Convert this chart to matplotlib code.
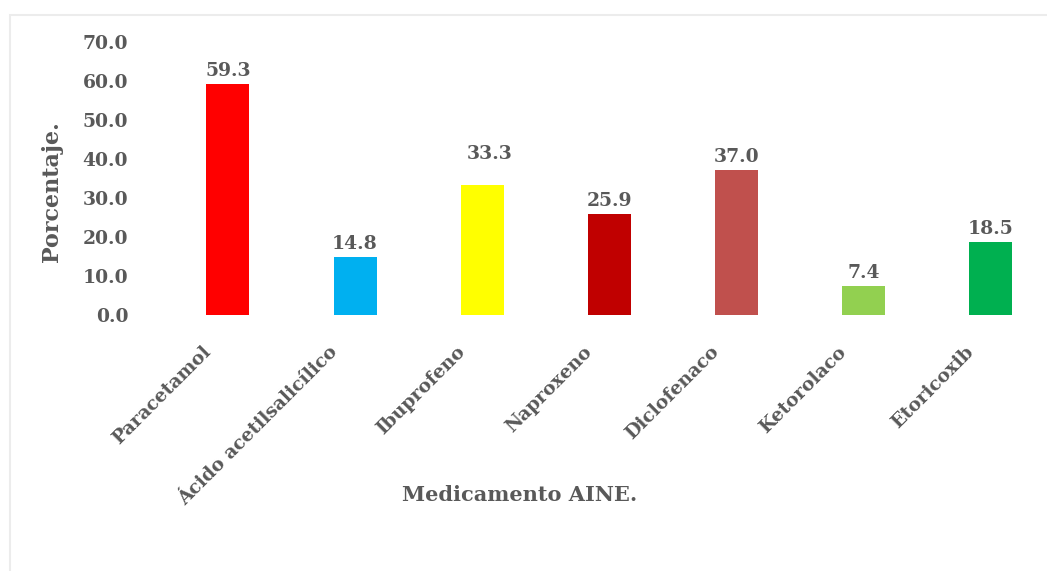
import matplotlib
matplotlib.use("Agg")
import matplotlib.pyplot as plt
from matplotlib.patches import Rectangle
from matplotlib.transforms import ScaledTranslation

# ---- data ----
categories = ["Paracetamol", "Ácido acetilsalicílico", "Ibuprofeno", "Naproxeno",
              "Diclofenaco", "Ketorolaco", "Etoricoxib"]
values = [59.3, 14.8, 33.3, 25.9, 37.0, 7.4, 18.5]
colors = ["#FF0000", "#00B0F0", "#FFFF00", "#C00000", "#C0504D", "#92D050", "#00B050"]
yticks = [0, 10, 20, 30, 40, 50, 60, 70]
ytick_labels = ["0.0", "10.0", "20.0", "30.0", "40.0", "50.0", "60.0", "70.0"]
ylabel = "Porcentaje."
xlabel = "Medicamento AINE."
# label offsets in pixels (dx, dy) — Ibuprofeno label was moved in the original
label_offsets = [(0, 0), (0, 0), (8, 18), (0, 0), (0, 0), (0, 0), (0, 0)]

TXT = "#595959"
FONT = "DejaVu Serif"
W, H, DPI = 1047, 571, 100

fig = plt.figure(figsize=(W / DPI, H / DPI), dpi=DPI)
fig.patch.set_facecolor("white")

# chart border (light gray)
fig.patches.append(Rectangle((10 / W, -0.05), 1.1, (H - 15) / H + 0.05,
                             transform=fig.transFigure, fill=False,
                             edgecolor="#ececec", linewidth=1.5))

left_px, right_px = 140, 1040
bot_px, top_px = 314.5, 42
ax = fig.add_axes([left_px / W, (H - bot_px) / H,
                   (right_px - left_px) / W, (bot_px - top_px) / H])

x = list(range(len(categories)))
ax.bar(x, values, width=0.338, color=colors)
ax.set_xlim(-0.692, 6.389)
ax.set_ylim(0, 70)

for s in ax.spines.values():
    s.set_visible(False)

ax.set_yticks(yticks)
ax.set_yticklabels(ytick_labels, fontfamily=FONT, fontweight="bold",
                   fontsize=13.5, color=TXT)
ax.tick_params(axis="y", length=0, pad=8.5)

ax.set_xticks(x)
ax.set_xticklabels(categories, rotation=45, ha="right", va="center",
                   rotation_mode="anchor", fontfamily=FONT, fontweight="bold",
                   fontsize=13.5, color=TXT)
ax.tick_params(axis="x", length=0, pad=25)
off = ScaledTranslation(-20 / DPI, 0, fig.dpi_scale_trans)
for lab in ax.get_xticklabels():
    lab.set_transform(lab.get_transform() + off)

for xi, v, (dx, dy) in zip(x, values, label_offsets):
    ax.annotate(f"{v:.1f}", xy=(xi, v), xytext=(dx * 0.72, (4 + dy) * 0.72),
                textcoords="offset points", ha="center", va="bottom",
                fontfamily=FONT, fontweight="bold", fontsize=13.5, color=TXT)

ax.set_ylabel(ylabel, fontfamily=FONT, fontweight="bold", fontsize=16, color=TXT)
ax.yaxis.set_label_coords(-0.086, 0.45)
ax.set_xlabel(xlabel, fontfamily=FONT, fontweight="bold", fontsize=15, color=TXT)
ax.xaxis.set_label_coords(0.422, -0.626)

fig.savefig("out.png", dpi=DPI, facecolor="white")
